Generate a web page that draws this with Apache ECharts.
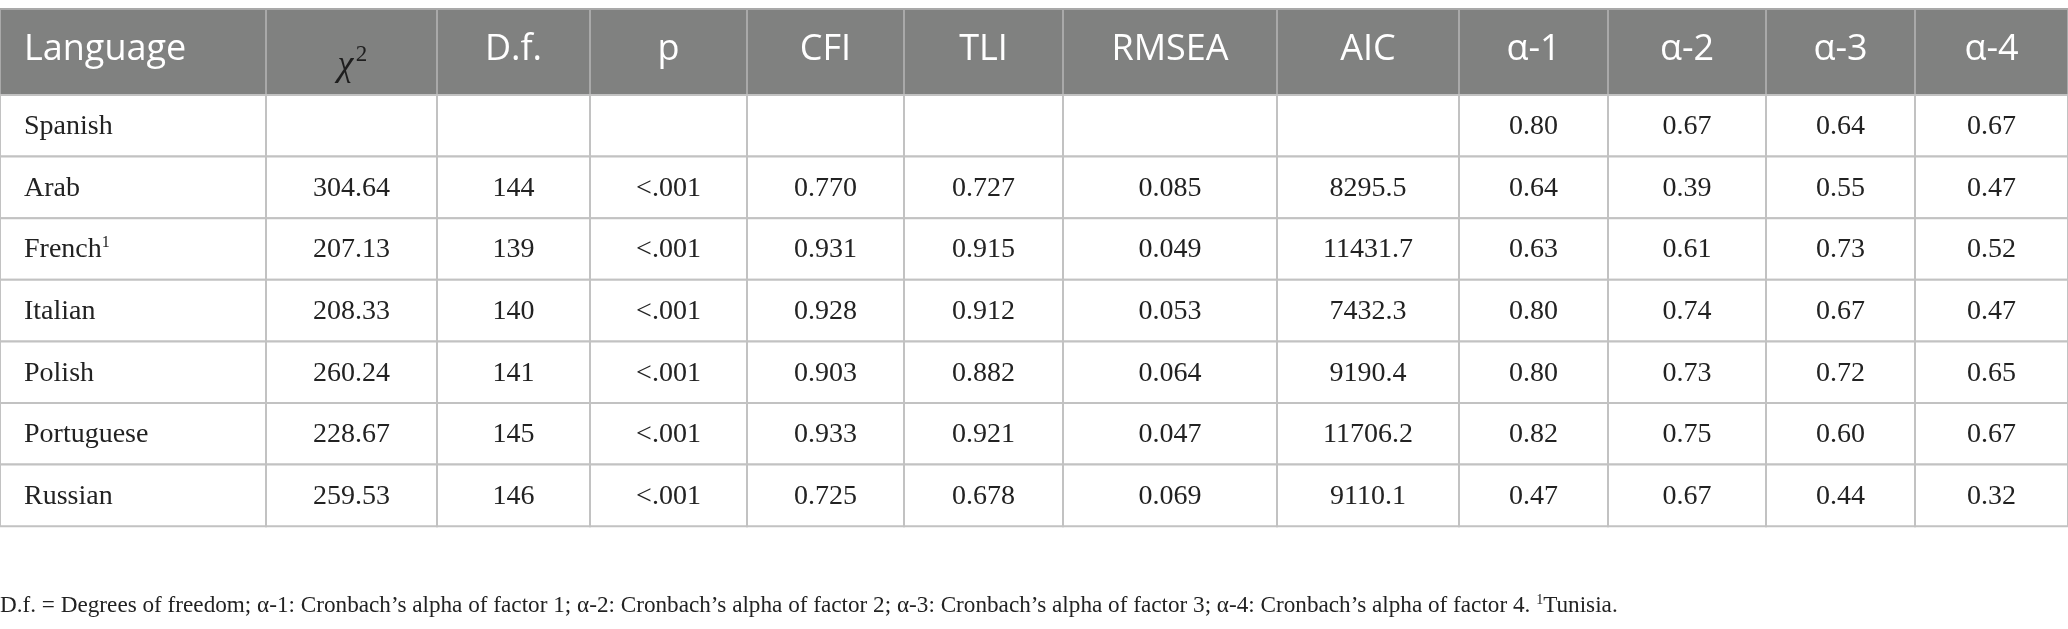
<!DOCTYPE html>
<html>
<head>
    <meta charset="UTF-8">
    <title>Model fit by language</title>
    <script src="https://cdn.jsdelivr.net/npm/echarts@6/dist/echarts.min.js"></script>
    <style>
        html, body { margin: 0; padding: 0; background: #fff; }
        #main { width: 2068px; height: 629px; }
    </style>
</head>
<body>
<div id="main"></div>
<script type="text/javascript">

    // table contents
    var headers = ['Language', 'χ2', 'D.f.', 'p', 'CFI', 'TLI', 'RMSEA', 'AIC', 'α-1', 'α-2', 'α-3', 'α-4'];
    var languages = ['Spanish', 'Arab', 'French', 'Italian', 'Polish', 'Portuguese', 'Russian'];
    var chi2 = ['', '304.64', '207.13', '208.33', '260.24', '228.67', '259.53'];
    var df = ['', '144', '139', '140', '141', '145', '146'];
    var pValues = ['', '<.001', '<.001', '<.001', '<.001', '<.001', '<.001'];
    var cfi = ['', '0.770', '0.931', '0.928', '0.903', '0.933', '0.725'];
    var tli = ['', '0.727', '0.915', '0.912', '0.882', '0.921', '0.678'];
    var rmsea = ['', '0.085', '0.049', '0.053', '0.064', '0.047', '0.069'];
    var aic = ['', '8295.5', '11431.7', '7432.3', '9190.4', '11706.2', '9110.1'];
    var alpha1 = ['0.80', '0.64', '0.63', '0.80', '0.80', '0.82', '0.47'];
    var alpha2 = ['0.67', '0.39', '0.61', '0.74', '0.73', '0.75', '0.67'];
    var alpha3 = ['0.64', '0.55', '0.73', '0.67', '0.72', '0.60', '0.44'];
    var alpha4 = ['0.67', '0.47', '0.52', '0.47', '0.65', '0.67', '0.32'];
    var footnoteMarks = {'French': '1'};
    var footnote = 'D.f. = Degrees of freedom; α-1: Cronbach\u2019s alpha of factor 1; α-2: Cronbach\u2019s alpha of factor 2; ' +
        'α-3: Cronbach\u2019s alpha of factor 3; α-4: Cronbach\u2019s alpha of factor 4. ';
    var footnoteTail = 'Tunisia.';

    // layout (pixels)
    var colWidths = [266, 171, 153, 157, 157, 159, 214, 182, 149, 158, 149, 153];
    var headerHeight = 86;
    var rowHeight = 61.6;

    var colStarts = [0];
    colWidths.forEach(function (w, i) { colStarts.push(colStarts[i] + w); });
    var rowStarts = [0, headerHeight];
    languages.forEach(function (l, i) { rowStarts.push(rowStarts[i + 1] + rowHeight); });
    var totalWidth = colStarts[colStarts.length - 1];
    var totalHeight = rowStarts[rowStarts.length - 1];

    var columns = [languages, chi2, df, pValues, cfi, tli, rmsea, aic, alpha1, alpha2, alpha3, alpha4];

    // cells: [col, row, text]
    var cells = [];
    headers.forEach(function (h, c) { cells.push([c, 0, h]); });
    languages.forEach(function (l, r) {
        columns.forEach(function (col, c) { cells.push([c, r + 1, col[r]]); });
    });

    var serif = '"Liberation Serif", "DejaVu Serif", serif';
    var sans = '"Open Sans", "Noto Sans", sans-serif';

    function cellText(c, r, text, x0, x1, y0, y1) {
        var left = c === 0;
        var x = left ? x0 + 24 : (x0 + x1) / 2;
        var y = (y0 + y1) / 2;
        if (r === 0) {
            if (c === 1) {
                // chi square: italic chi with a raised 2
                return [{
                    type: 'text',
                    style: {
                        x: x - 6, y: y + 14, align: 'center', verticalAlign: 'middle',
                        text: text.charAt(0), fill: '#1e1e1e',
                        fontFamily: serif, fontStyle: 'italic', fontSize: 36
                    }
                }, {
                    type: 'text',
                    style: {
                        x: x + 10, y: y + 3, align: 'center', verticalAlign: 'middle',
                        text: text.charAt(1), fill: '#1e1e1e', fontFamily: serif, fontSize: 23
                    }
                }];
            }
            return [{
                type: 'text',
                style: {
                    x: x, y: y - 2, align: left ? 'left' : 'center', verticalAlign: 'middle',
                    text: text, fill: '#fff', fontFamily: sans, fontSize: 36
                }
            }];
        }
        var mark = left && footnoteMarks[text];
        return [{
            type: 'text',
            style: {
                x: x, y: y + 1, align: left ? 'left' : 'center', verticalAlign: 'middle',
                text: mark ? '{t|' + text + '}{s|' + mark + '}' : '{t|' + text + '}',
                rich: {
                    t: {fontFamily: serif, fontSize: 28, fill: '#222'},
                    s: {fontFamily: serif, fontSize: 16, fill: '#222', padding: [0, 0, 14, 0]}
                }
            }
        }];
    }

    var myChart = echarts.init(document.getElementById('main'));

    var option = {
        animation: false,
        grid: {left: 0, top: 9, width: totalWidth, height: totalHeight},
        xAxis: {type: 'value', min: 0, max: totalWidth, show: false},
        yAxis: {type: 'value', min: 0, max: totalHeight, inverse: true, show: false},
        title: {
            left: 0,
            top: 593,
            padding: 0,
            text: '{t|' + footnote + '}{s|1}{t|' + footnoteTail + '}',
            textStyle: {
                fontWeight: 'normal',
                rich: {
                    t: {fontFamily: serif, fontSize: 23.2, fontWeight: 'normal', color: '#222'},
                    s: {fontFamily: serif, fontSize: 14, fontWeight: 'normal', color: '#222', padding: [0, 0, 12, 0]}
                }
            }
        },
        series: [{
            type: 'custom',
            silent: true,
            data: cells,
            renderItem: function (params, api) {
                var c = api.value(0), r = api.value(1);
                var item = cells[params.dataIndex];
                var p0 = api.coord([colStarts[c], rowStarts[r]]);
                var p1 = api.coord([colStarts[c + 1], rowStarts[r + 1]]);
                var children = [{
                    type: 'rect',
                    shape: {x: p0[0], y: p0[1], width: p1[0] - p0[0], height: p1[1] - p0[1]},
                    style: {
                        fill: r === 0 ? '#808180' : '#fff',
                        stroke: r === 0 ? '#a9a9a9' : '#c2c2c2',
                        lineWidth: 2
                    }
                }];
                if (item[2] !== '') {
                    children = children.concat(cellText(c, r, item[2], p0[0], p1[0], p0[1], p1[1]));
                }
                return {type: 'group', children: children};
            }
        }]
    };

    myChart.setOption(option);

</script>
</body>
</html>
